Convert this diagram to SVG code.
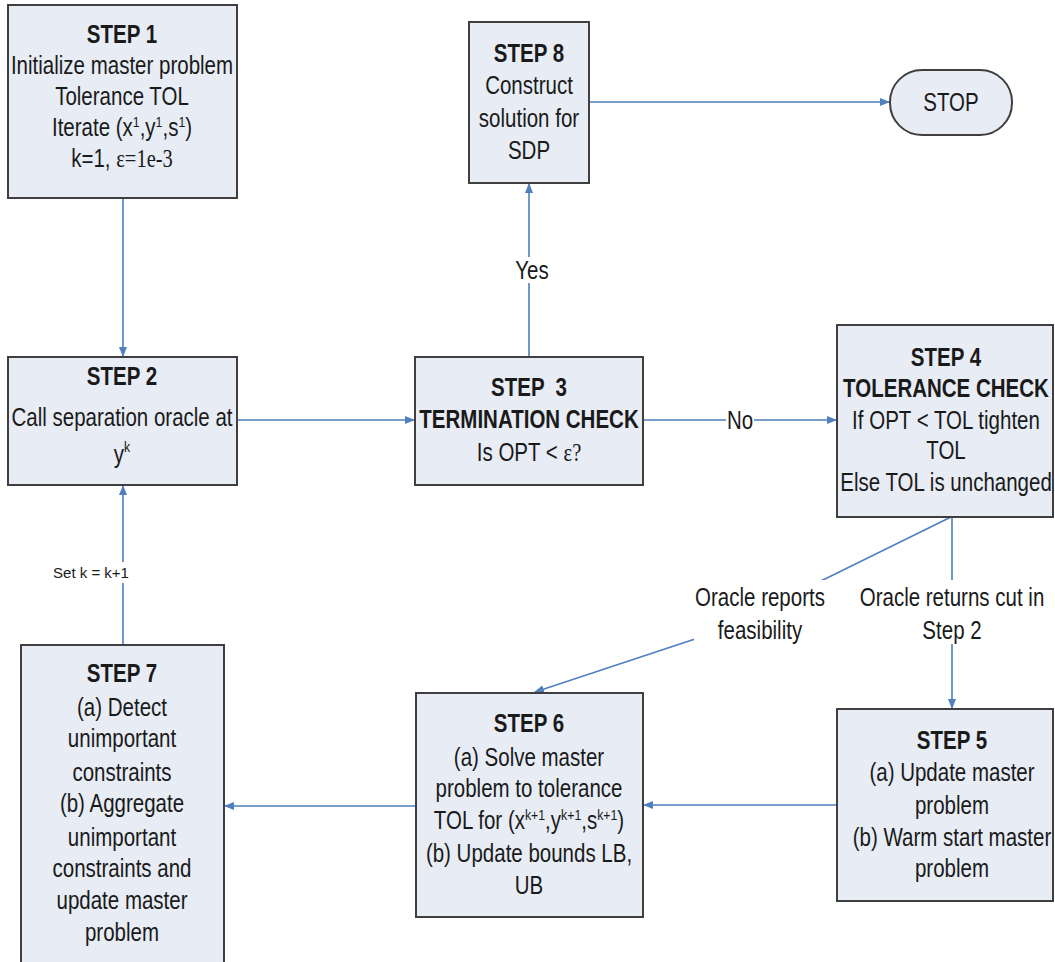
<svg xmlns="http://www.w3.org/2000/svg" width="1055" height="962" viewBox="0 0 1055 962">
<style>
.box{fill:#e7ecf5;stroke:#3f3f3f;stroke-width:2}
.t{font-family:"Liberation Sans",Arial,sans-serif;font-size:25px;fill:#1a1a1a;text-anchor:middle}
.b{font-weight:bold}
.sup{font-size:15px}
.ser{font-family:"Liberation Serif","Times New Roman",serif}
.c{fill:none;stroke:#4f7fbd;stroke-width:1.6}
.lbg{fill:#ffffff}
.sm{font-family:"Liberation Sans",Arial,sans-serif;font-size:15px;fill:#1a1a1a;text-anchor:middle}
</style>
<defs>
<marker id="ah" markerWidth="10" markerHeight="8" refX="9" refY="4" orient="auto" markerUnits="userSpaceOnUse">
<path d="M0,0 L10,4 L0,8 Z" fill="#4f7fbd"/>
</marker>
</defs>
<rect width="1055" height="962" fill="#ffffff"/>

<g id="connectors">
<path class="c" d="M123,198 L123,356" marker-end="url(#ah)"/>
<path class="c" d="M237,420 L414,420" marker-end="url(#ah)"/>
<path class="c" d="M529,357 L529,184" marker-end="url(#ah)"/>
<path class="c" d="M589,102 L889,102" marker-end="url(#ah)"/>
<path class="c" d="M643,420 L836,420" marker-end="url(#ah)"/>
<path class="c" d="M952,517 L952,708" marker-end="url(#ah)"/>
<path class="c" d="M951,517 L827,578 L695,639 L535,692" marker-end="url(#ah)"/>
<path class="c" d="M837,805 L644,805" marker-end="url(#ah)"/>
<path class="c" d="M416,806 L225,806" marker-end="url(#ah)"/>
<path class="c" d="M123,645 L123,486" marker-end="url(#ah)"/>
<rect class="lbg" x="517" y="257" width="30" height="26"/>
<text class="t" transform="translate(532 0) scale(0.82 1)" x="0" y="279">Yes</text>
<rect class="lbg" x="726" y="407" width="28" height="26"/>
<text class="t" transform="translate(740 0) scale(0.82 1)" x="0" y="429">No</text>
<rect class="lbg" x="858" y="580" width="188" height="64"/>
<text class="t" transform="translate(952 0) scale(0.82 1)" x="0" y="606">Oracle returns cut in</text>
<text class="t" transform="translate(952 0) scale(0.82 1)" x="0" y="639">Step 2</text>
<rect class="lbg" x="694" y="580" width="132" height="64"/>
<text class="t" transform="translate(760 0) scale(0.82 1)" x="0" y="606">Oracle reports</text>
<text class="t" transform="translate(760 0) scale(0.82 1)" x="0" y="639">feasibility</text>
<rect class="lbg" x="48" y="562" width="86" height="21"/>
<text class="sm" x="91" y="578">Set k = k+1</text>
</g>

<g id="step1">
<rect class="box" x="8" y="5" width="229" height="193"/>
<text class="t b" transform="translate(122 0) scale(0.82 1)" x="0" y="43">STEP 1</text>
<text class="t" transform="translate(122 0) scale(0.82 1)" x="0" y="74">Initialize master problem</text>
<text class="t" transform="translate(122 0) scale(0.82 1)" x="0" y="105">Tolerance TOL</text>
<text class="t" transform="translate(122 0) scale(0.82 1)" x="0" y="136">Iterate (x<tspan class="sup" dy="-9">1</tspan><tspan dy="9">,y</tspan><tspan class="sup" dy="-9">1</tspan><tspan dy="9">,s</tspan><tspan class="sup" dy="-9">1</tspan><tspan dy="9">)</tspan></text>
<text class="t" transform="translate(122 0) scale(0.82 1)" x="0" y="167">k=1, <tspan class="ser">ε=1e-3</tspan></text>
</g>

<g id="step2">
<rect class="box" x="8" y="357" width="229" height="128"/>
<text class="t b" transform="translate(122 0) scale(0.82 1)" x="0" y="385">STEP 2</text>
<text class="t" transform="translate(122 0) scale(0.82 1)" x="0" y="426">Call separation oracle at</text>
<text class="t" transform="translate(122 0) scale(0.82 1)" x="0" y="463">y<tspan class="sup" dy="-11">k</tspan></text>
</g>

<g id="step3">
<rect class="box" x="415" y="357" width="228" height="128"/>
<text class="t b" transform="translate(529 0) scale(0.82 1)" x="0" y="396" xml:space="preserve">STEP  3</text>
<text class="t b" transform="translate(529 0) scale(0.82 1)" x="0" y="428">TERMINATION CHECK</text>
<text class="t" transform="translate(529 0) scale(0.82 1)" x="0" y="461">Is OPT &lt; <tspan class="ser">ε?</tspan></text>
</g>

<g id="step4">
<rect class="box" x="837" y="325" width="216" height="192"/>
<text class="t b" transform="translate(946 0) scale(0.82 1)" x="0" y="366">STEP 4</text>
<text class="t b" transform="translate(946 0) scale(0.82 1)" x="0" y="397">TOLERANCE CHECK</text>
<text class="t" transform="translate(946 0) scale(0.82 1)" x="0" y="429">If OPT &lt; TOL tighten</text>
<text class="t" transform="translate(946 0) scale(0.82 1)" x="0" y="459">TOL</text>
<text class="t" transform="translate(946 0) scale(0.82 1)" x="0" y="491">Else TOL is unchanged</text>
</g>

<g id="step5">
<rect class="box" x="837" y="709" width="216" height="192"/>
<text class="t b" transform="translate(952 0) scale(0.82 1)" x="0" y="749">STEP 5</text>
<text class="t" transform="translate(952 0) scale(0.82 1)" x="0" y="781">(a) Update master</text>
<text class="t" transform="translate(952 0) scale(0.82 1)" x="0" y="814">problem</text>
<text class="t" transform="translate(952 0) scale(0.82 1)" x="0" y="846">(b) Warm start master</text>
<text class="t" transform="translate(952 0) scale(0.82 1)" x="0" y="877">problem</text>
</g>

<g id="step6">
<rect class="box" x="416" y="693" width="227" height="224"/>
<text class="t b" transform="translate(529 0) scale(0.82 1)" x="0" y="732">STEP 6</text>
<text class="t" transform="translate(529 0) scale(0.82 1)" x="0" y="766">(a) Solve master</text>
<text class="t" transform="translate(529 0) scale(0.82 1)" x="0" y="797">problem to tolerance</text>
<text class="t" transform="translate(529 0) scale(0.82 1)" x="0" y="829">TOL for (x<tspan class="sup" dy="-9">k+1</tspan><tspan dy="9">,y</tspan><tspan class="sup" dy="-9">k+1</tspan><tspan dy="9">,s</tspan><tspan class="sup" dy="-9">k+1</tspan><tspan dy="9">)</tspan></text>
<text class="t" transform="translate(529 0) scale(0.82 1)" x="0" y="862">(b) Update bounds LB,</text>
<text class="t" transform="translate(529 0) scale(0.82 1)" x="0" y="894">UB</text>
</g>

<g id="step7">
<rect class="box" x="21" y="645" width="203" height="323"/>
<text class="t b" transform="translate(122 0) scale(0.82 1)" x="0" y="682">STEP 7</text>
<text class="t" transform="translate(122 0) scale(0.82 1)" x="0" y="716">(a) Detect</text>
<text class="t" transform="translate(122 0) scale(0.82 1)" x="0" y="747">unimportant</text>
<text class="t" transform="translate(122 0) scale(0.82 1)" x="0" y="781">constraints</text>
<text class="t" transform="translate(122 0) scale(0.82 1)" x="0" y="812">(b) Aggregate</text>
<text class="t" transform="translate(122 0) scale(0.82 1)" x="0" y="846">unimportant</text>
<text class="t" transform="translate(122 0) scale(0.82 1)" x="0" y="877">constraints and</text>
<text class="t" transform="translate(122 0) scale(0.82 1)" x="0" y="909">update master</text>
<text class="t" transform="translate(122 0) scale(0.82 1)" x="0" y="941">problem</text>
</g>

<g id="step8">
<rect class="box" x="469" y="22" width="120" height="161"/>
<text class="t b" transform="translate(529 0) scale(0.82 1)" x="0" y="62">STEP 8</text>
<text class="t" transform="translate(529 0) scale(0.82 1)" x="0" y="94">Construct</text>
<text class="t" transform="translate(529 0) scale(0.82 1)" x="0" y="127">solution for</text>
<text class="t" transform="translate(529 0) scale(0.82 1)" x="0" y="159">SDP</text>
</g>

<g id="stop">
<rect class="box" x="890" y="70" width="122" height="65" rx="32" ry="32"/>
<text class="t" transform="translate(951 0) scale(0.82 1)" x="0" y="111">STOP</text>
</g>
</svg>
